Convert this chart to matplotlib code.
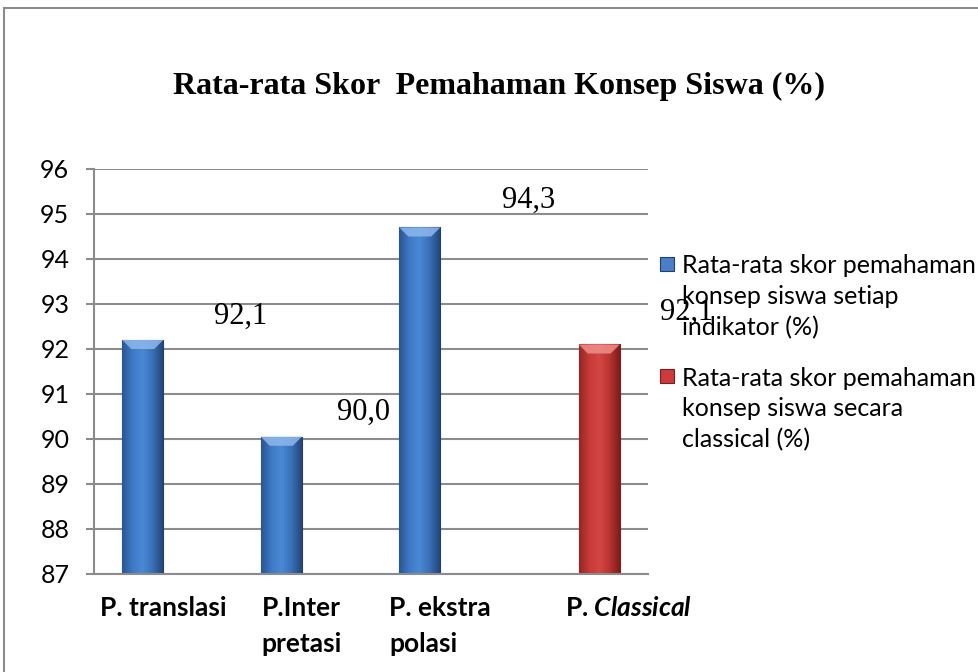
import numpy as np
import matplotlib
matplotlib.use("Agg")
import matplotlib.pyplot as plt
from matplotlib.patches import Rectangle, Polygon
from matplotlib.colors import LinearSegmentedColormap
from matplotlib.transforms import blended_transform_factory

plt.rcParams['mathtext.fontset'] = 'custom'
plt.rcParams['mathtext.it'] = 'Lato:bold:italic'
plt.rcParams['mathtext.rm'] = 'Lato:bold'

# ---- data ----
categories = ["P. translasi", "P.Inter\npretasi", "P. ekstra\npolasi", r"P. $\mathit{Classical}$"]
series1_lines = ["Rata-rata skor pemahaman", "konsep siswa setiap", "indikator (%)"]
series2_lines = ["Rata-rata skor pemahaman", "konsep siswa secara", "classical (%)"]
series1 = [92.2, 90.05, 94.7, np.nan]
series2 = [np.nan, np.nan, np.nan, 92.1]
label_texts = ["92,1", "90,0", "94,3", "92,1"]
label_x = [0.556, 1.444, 2.635, 3.78]
label_y = [92.73, 90.6, 95.31, 92.82]
yticks = [87, 88, 89, 90, 91, 92, 93, 94, 95, 96]

W, H = 979, 672
fig = plt.figure(figsize=(W / 100, H / 100), dpi=100)
fig.patch.set_facecolor('white')
ax = fig.add_axes([94 / W, 1 - 574 / H, 554 / W, 405 / H])

grid_c = '#8c8c8c'
ax.set_ylim(87, 96)
ax.set_xlim(-0.5, 3.5)
ax.set_yticks(yticks)
ax.yaxis.grid(True, color=grid_c, lw=1.5)
ax.set_axisbelow(True)
for s in ['top', 'right']:
    ax.spines[s].set_visible(False)
for s in ['left', 'bottom']:
    ax.spines[s].set_color(grid_c)
    ax.spines[s].set_linewidth(1.5)
ax.tick_params(axis='y', length=5.8, width=1.5, color=grid_c, labelsize=18, pad=12)
ax.tick_params(axis='x', length=0, pad=16)
for t in ax.get_yticklabels():
    t.set_fontfamily('Lato')

x = np.arange(len(categories))
bw = 0.296
b1 = ax.bar(x - bw / 2, np.array(series1) - 87, bw, bottom=87, color='#4a7fc8',
            edgecolor='#1f3f6e', lw=0.8, zorder=2)
b2 = ax.bar(x + bw / 2, np.array(series2) - 87, bw, bottom=87, color='#cc3b3b',
            edgecolor='#7a1e1e', lw=0.8, zorder=2)

cmap_b = LinearSegmentedColormap.from_list('b', ['#2a5592', '#3f79c6', '#4a88d6', '#3a70b8', '#24477a'])
cmap_r = LinearSegmentedColormap.from_list('r', ['#962626', '#c63a38', '#d44644', '#ba3331', '#7e1c1c'])
grad = np.linspace(0, 1, 64).reshape(1, -1)
for bars, cm, top_c in [(b1, cmap_b, '#8fb8ec'), (b2, cmap_r, '#ee8f8c')]:
    for p in bars:
        h = p.get_height()
        if not np.isfinite(h) or h <= 0:
            continue
        x0, y0, w = p.get_x(), p.get_y(), p.get_width()
        im = ax.imshow(grad, extent=[x0, x0 + w, y0, y0 + h], aspect='auto', cmap=cm,
                       zorder=2.1, interpolation='bicubic')
        im.set_clip_path(p)
        dy = 0.2
        dx = w * 0.22
        top = y0 + h
        ax.add_patch(Polygon([[x0, top], [x0 + w, top], [x0 + w - dx, top - dy], [x0 + dx, top - dy]],
                             closed=True, facecolor=top_c, edgecolor='none', alpha=0.85, zorder=2.2))
ax.set_xlim(-0.5, 3.5)
ax.set_ylim(87, 96)

ax.set_xticks(x)
ax.set_xticklabels(categories[:3] + [""], fontfamily='Lato', fontweight='bold', fontsize=19,
                   va='top', multialignment='left', linespacing=1.6)
trans = blended_transform_factory(ax.transData, ax.transAxes)
ax.annotate(categories[3], xy=(3.357, 0), xycoords=trans, xytext=(0, -16), textcoords='offset points',
            ha='center', va='top', fontfamily='Lato', fontweight='bold', fontsize=19,
            annotation_clip=False)

for t, lx, ly in zip(label_texts, label_x, label_y):
    ax.text(lx, ly, t, ha='center', va='center', fontfamily='Liberation Serif',
            fontsize=22, clip_on=False, zorder=5)

fig.text(499 / W, 1 - 86 / H, "Rata-rata Skor  Pemahaman Konsep Siswa (%)",
         ha='center', va='center', fontfamily='Liberation Serif', fontweight='bold', fontsize=23)

# legend (drawn as patches + text lines so the marker sits on the first line)
line_step = 31
for lines, face, edge, y_first in [(series1_lines, '#4a7fc8', '#1f3f6e', 264),
                                   (series2_lines, '#cc3b3b', '#7a1e1e', 376)]:
    fig.add_artist(Rectangle((660 / W, 1 - (y_first + 7) / H), 14 / W, 14 / H, transform=fig.transFigure,
                             facecolor=face, edgecolor=edge, lw=0.8))
    for i, ln in enumerate(lines):
        fig.text(682 / W, 1 - (y_first + i * line_step) / H, ln, ha='left', va='center_baseline',
                 fontfamily='Lato', fontsize=18)

fig.add_artist(Rectangle((4 / W, -0.5), 2, 1.5 - 8 / H, transform=fig.transFigure,
                         fill=False, edgecolor='#8c8c8c', lw=1.5))

fig.savefig('out.png', dpi=100)
